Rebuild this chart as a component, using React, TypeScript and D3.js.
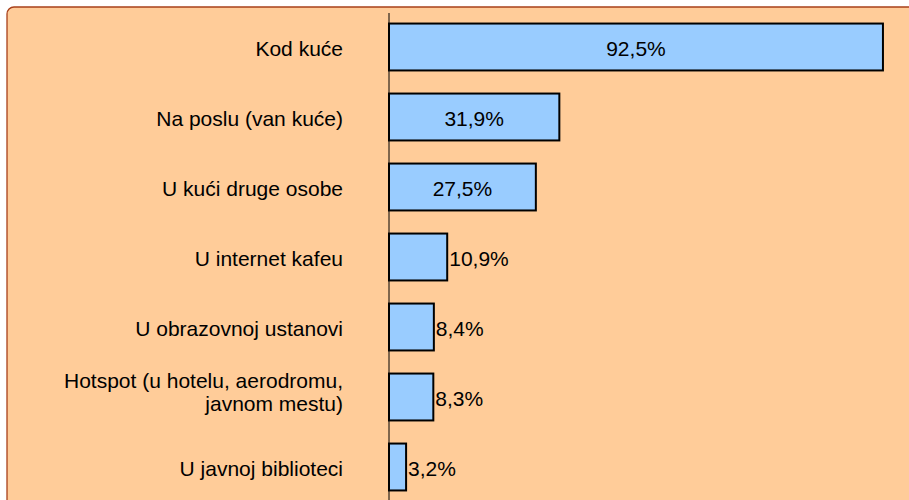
import React from "react";
import * as d3 from "d3";

const categories: string[][] = [
  ["Kod kuće"],
  ["Na poslu (van kuće)"],
  ["U kući druge osobe"],
  ["U internet kafeu"],
  ["U obrazovnoj ustanovi"],
  ["Hotspot (u hotelu, aerodromu,", "javnom mestu)"],
  ["U javnoj biblioteci"],
];
const values: number[] = [92.5, 31.9, 27.5, 10.9, 8.4, 8.3, 3.2];
const valueLabels: string[] = ["92,5%", "31,9%", "27,5%", "10,9%", "8,4%", "8,3%", "3,2%"];

const W = 909;
const H = 500;
const FONT = "'Liberation Sans', Arial, sans-serif";
const FS = 21;

export default function App() {
  const ids = categories.map((_, i) => String(i));
  const x = d3.scaleLinear().domain([0, 100]).range([389, 923]);
  const y = d3
    .scaleBand<string>()
    .domain(ids)
    .range([12, 502])
    .paddingInner(0.33)
    .paddingOuter(0.165);

  return (
    <svg
      width={W}
      height={H}
      style={{ position: "absolute", left: 0, top: 0, display: "block" }}
    >
      <rect x={0} y={0} width={W} height={H} fill="#ffffff" />
      <rect
        x={7}
        y={7}
        width={W + 20}
        height={H + 20}
        rx={7}
        fill="#FFCC99"
        stroke="#A8401A"
        strokeWidth={1.3}
      />
      {values.map((v, i) => {
        const y0 = y(ids[i])!;
        const bw = y.bandwidth();
        const x0 = x(0);
        const x1 = x(v);
        const inside = x1 - x0 > 100;
        const cy = y0 + bw / 2;
        const lines = categories[i];
        return (
          <g key={i}>
            <rect
              x={x0}
              y={y0}
              width={x1 - x0}
              height={bw}
              fill="#99CCFF"
              stroke="#000"
              strokeWidth={2}
            />
            <text
              x={inside ? (x0 + x1) / 2 : x1 + 2}
              y={cy + 8.5}
              textAnchor={inside ? "middle" : "start"}
              fontFamily={FONT}
              fontSize={FS}
              fill="#000"
            >
              {valueLabels[i]}
            </text>
            {lines.map((line, j) => (
              <text
                key={j}
                x={343}
                y={cy + 9 - (lines.length - 1) * 18.5 + j * 23}
                textAnchor="end"
                fontFamily={FONT}
                fontSize={FS}
                fill="#000"
              >
                {line}
              </text>
            ))}
          </g>
        );
      })}
      <line x1={x(0)} x2={x(0)} y1={13} y2={H} stroke="#000" strokeWidth={1} />
    </svg>
  );
}
